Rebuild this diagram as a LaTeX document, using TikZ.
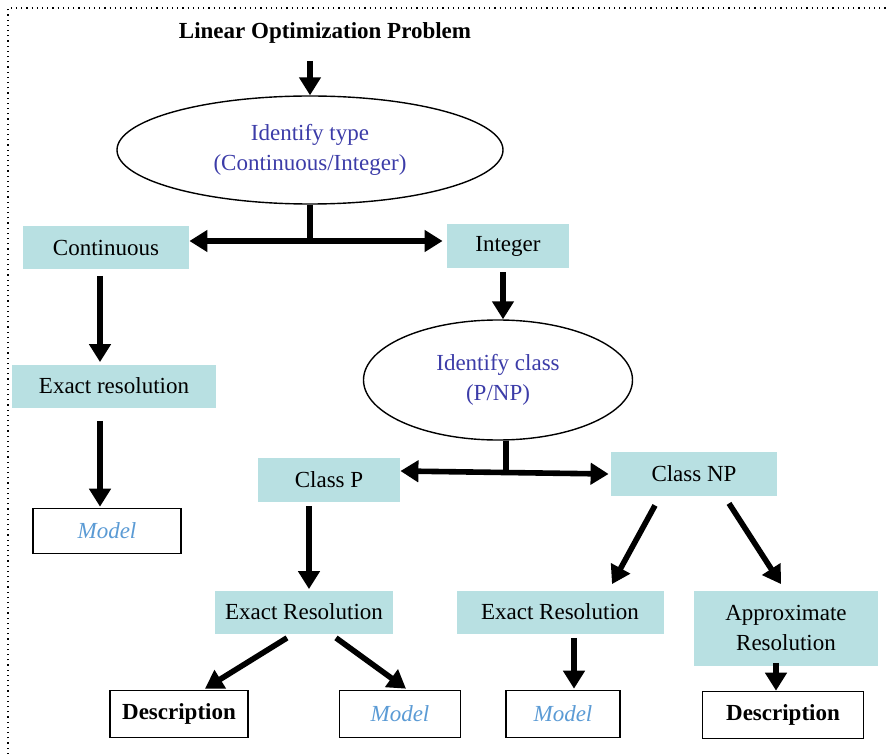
\documentclass[tikz,border=0pt]{standalone}
\usepackage{fontspec}
\setmainfont{Liberation Serif}
\usepackage{tikz}
\usetikzlibrary{arrows.meta, positioning, shapes.geometric, calc}
\usepackage{xcolor}
\definecolor{boxfill}{HTML}{B8E0E2}
\definecolor{elltext}{HTML}{3C3CA8}
\definecolor{modeltext}{HTML}{5B9BD5}

\begin{document}
\begin{tikzpicture}[
    x=0.5pt, y=-0.5pt,
    every node/.style={align=center, font=\fontsize{11.5}{15}\selectfont, inner sep=0pt},
    stepbox/.style={fill=boxfill, minimum height=21.5pt},
    outbox/.style={draw=black, line width=0.8pt, fill=white, minimum height=23.5pt},
    choice/.style={draw=black, line width=0.7pt, ellipse, text=elltext},
    arr/.style={line width=2.8pt, -{Triangle[length=9pt, width=10.5pt]}},
    arrboth/.style={line width=2.8pt, {Triangle[length=9pt, width=10.5pt]}-{Triangle[length=9pt, width=10.5pt]}},
    stem/.style={line width=2.8pt}
]
    \useasboundingbox (0,0) rectangle (889,754);
    \draw[dotted, line width=0.6pt] (8,754) -- (8,8) -- (889,8);

    \node (title) at (325,33) {\bfseries Linear Optimization Problem};
    \node[choice, minimum width=193pt, minimum height=54pt] (type) at (310,150) {Identify type\\(Continuous/Integer)};
    \node[stepbox, minimum width=83pt] (cont) at (106,248) {Continuous};
    \node[stepbox, minimum width=61pt, minimum height=22pt] (int) at (508,246) {Integer};
    \node[stepbox, minimum width=102pt] (exres1) at (114,386) {Exact resolution};
    \node[outbox, minimum width=74pt, minimum height=22.5pt] (model1) at (107,531) {\itshape\color{modeltext}Model};
    \node[choice, minimum width=134.5pt, minimum height=60pt] (cls) at (498,380) {Identify class\\(P/NP)};
    \node[stepbox, minimum width=71pt, minimum height=22pt] (classP) at (329,480) {Class P};
    \node[stepbox, minimum width=83pt, minimum height=22pt] (classNP) at (694,474) {Class NP};
    \node[stepbox, minimum width=89pt] (exres2) at (304,612) {Exact Resolution};
    \node[stepbox, minimum width=103.5pt] (exres3) at (560,612) {Exact Resolution};
    \node[stepbox, minimum width=92pt, minimum height=37.5pt] (approx) at (786,628) {Approximate\\Resolution};
    \node[outbox, minimum width=69pt] (desc1) at (179,714) {\bfseries Description};
    \node[outbox, minimum width=60.5pt] (model2) at (400,714) {\itshape\color{modeltext}Model};
    \node[outbox, minimum width=57pt] (model3) at (563,714) {\itshape\color{modeltext}Model};
    \node[outbox, minimum width=80.5pt] (desc2) at (783,715) {\bfseries Description};

    \draw[arr] ([yshift=-8.5pt]type.north |- title.south) -- (type.north);
    \draw[stem] (type.south) -- ([yshift=3.5pt]type.south |- cont.east);
    \draw[arrboth] ([yshift=3.5pt]cont.east) -- ([xshift=-2pt,yshift=2.5pt]int.west);
    \draw[arr] ([xshift=-3pt,yshift=-3pt]cont.south) -- ([xshift=-7pt,yshift=1pt]exres1.north);
    \draw[arr] ([xshift=-7pt,yshift=-6.5pt]exres1.south) -- ([xshift=-3.5pt,yshift=0.5pt]model1.north);
    \draw[arr] ([xshift=-2.5pt,yshift=-2pt]int.south) -- ([xshift=2.5pt]cls.north);
    \draw[stem] ([xshift=4pt]cls.south) -- ([xshift=4pt,yshift=4pt]cls.south |- classP.east);
    \draw[arrboth] ([yshift=4.5pt]classP.east) -- ([xshift=-1pt]classNP.west);
    \draw[arr] ([xshift=-10pt,yshift=-2pt]classP.south) -- ([xshift=2.5pt,yshift=0.5pt]exres2.north);
    \draw[arr] ([xshift=-19.5pt,yshift=-4.5pt]classNP.south) -- ([xshift=26pt,yshift=3pt]exres3.north);
    \draw[arr] ([xshift=17.5pt,yshift=-3.5pt]classNP.south) -- ([xshift=-2.5pt,yshift=3pt]approx.north);
    \draw[arr] ([xshift=-8.5pt,yshift=-2pt]exres2.south) -- ([xshift=13pt,yshift=0.5pt]desc1.north);
    \draw[arr] ([xshift=16pt,yshift=-2pt]exres2.south) -- ([xshift=3pt,yshift=0.5pt]model2.north);
    \draw[arr] ([xshift=7pt,yshift=-2pt]exres3.south) -- ([xshift=5.5pt,yshift=0.5pt]model3.north);
    \draw[arr] ([xshift=-5pt,yshift=1.5pt]approx.south) -- ([xshift=-3.5pt]desc2.north);
\end{tikzpicture}
\end{document}
